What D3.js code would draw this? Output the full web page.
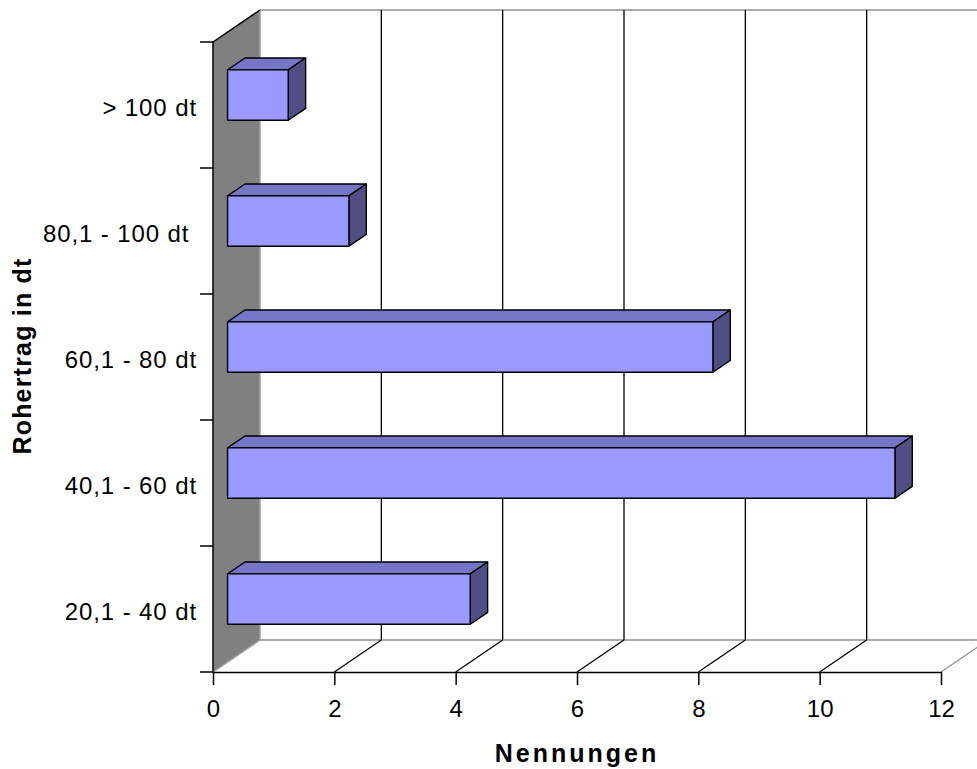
<!DOCTYPE html>
<html>
<head>
<meta charset="utf-8">
<script src="https://cdn.jsdelivr.net/npm/d3@7"></script>
<style>
  html, body { margin: 0; padding: 0; background: #fff; }
  svg { display: block; font-family: "Liberation Sans", Arial, sans-serif; }
</style>
</head>
<body>
<svg id="chart" width="977" height="769"></svg>
<script>
// Rohertrag classes (bottom to top) and number of answers per class
const categories = ["20,1 - 40 dt", "40,1 - 60 dt", "60,1 - 80 dt", "80,1 - 100 dt\u00a0", "> 100 dt"];
const values = [4, 11, 8, 2, 1];
const xTicks = [0, 2, 4, 6, 8, 10, 12];
const xTitle = "Nennungen";
const yTitle = "Rohertrag in dt";

const svg = d3.select("#chart");

// front plane of the 3D box
const x = d3.scaleLinear().domain([0, 12]).range([213, 941]);
const y = d3.scaleBand().domain(categories).range([672, 42])
  .paddingInner(0.6).paddingOuter(0.3);

// depth projection: a point at depth d (0 = front, 1 = back)
const DX = 47, DY = -32;
const P = (px, py, d) => [px + d * DX, py + d * DY];
const pts = arr => arr.map(p => p.join(",")).join(" ");

const yTop = y.range()[1], yBot = y.range()[0];
const x0 = x(0), x1 = x(12);

// left wall
svg.append("polygon")
  .attr("points", pts([P(x0, yTop, 0), P(x0, yTop, 1), P(x0, yBot, 1), P(x0, yBot, 0)]))
  .attr("fill", "#808080");
svg.append("line")
  .attr("x1", P(x0, yTop, 1)[0]).attr("y1", P(x0, yTop, 1)[1])
  .attr("x2", P(x0, yBot, 1)[0]).attr("y2", P(x0, yBot, 1)[1])
  .attr("stroke", "#a0a0a0").attr("stroke-width", 1.5);
svg.append("line")
  .attr("x1", P(x0, yBot, 0)[0]).attr("y1", P(x0, yBot, 0)[1])
  .attr("x2", P(x0, yBot, 1)[0]).attr("y2", P(x0, yBot, 1)[1])
  .attr("stroke", "#a0a0a0").attr("stroke-width", 1.5);
svg.append("line")
  .attr("x1", P(x0, yTop, 0)[0]).attr("y1", P(x0, yTop, 0)[1])
  .attr("x2", P(x0, yTop, 1)[0]).attr("y2", P(x0, yTop, 1)[1])
  .attr("stroke", "#000").attr("stroke-width", 1.5);

// back wall edges
svg.append("line")
  .attr("x1", P(x0, yTop, 1)[0]).attr("y1", P(x0, yTop, 1)[1])
  .attr("x2", P(x1, yTop, 1)[0]).attr("y2", P(x1, yTop, 1)[1])
  .attr("stroke", "#909090").attr("stroke-width", 1.5);
svg.append("line")
  .attr("x1", P(x0, yBot, 1)[0]).attr("y1", P(x0, yBot, 1)[1])
  .attr("x2", P(x1, yBot, 1)[0]).attr("y2", P(x1, yBot, 1)[1])
  .attr("stroke", "#909090").attr("stroke-width", 1.5);

// vertical gridlines on the back wall
svg.append("g").selectAll("line")
  .data(xTicks.filter(v => v > 0))
  .join("line")
  .attr("x1", v => P(x(v), yTop, 1)[0]).attr("y1", v => P(x(v), yTop, 1)[1])
  .attr("x2", v => P(x(v), yBot, 1)[0]).attr("y2", v => P(x(v), yBot, 1)[1])
  .attr("stroke", "#000").attr("stroke-width", 1.3);

// floor lines running from the axis ticks to the back
svg.append("g").selectAll("line")
  .data(xTicks.filter(v => v > 0))
  .join("line")
  .attr("x1", v => x(v)).attr("y1", yBot)
  .attr("x2", v => P(x(v), yBot, 1)[0]).attr("y2", v => P(x(v), yBot, 1)[1])
  .attr("stroke", v => v === 12 ? "#909090" : "#000").attr("stroke-width", 1.3);

// bars
const D1 = 0.31, D2 = 0.68;
const fontSize = 24;
const bars = svg.append("g").selectAll("g")
  .data(categories.map((c, i) => ({ c, v: values[i] })))
  .join("g")
  .attr("stroke", "#000").attr("stroke-width", 1.4).attr("stroke-linejoin", "round");

bars.append("polygon") // top face
  .attr("fill", "#7676C8")
  .attr("points", d => {
    const t = y(d.c);
    return pts([P(x0, t, D1), P(x(d.v), t, D1), P(x(d.v), t, D2), P(x0, t, D2)]);
  });
bars.append("polygon") // side face
  .attr("fill", "#4F4F86")
  .attr("points", d => {
    const t = y(d.c), b = y(d.c) + y.bandwidth();
    return pts([P(x(d.v), t, D1), P(x(d.v), t, D2), P(x(d.v), b, D2), P(x(d.v), b, D1)]);
  });
bars.append("polygon") // front face
  .attr("fill", "#9999FF")
  .attr("points", d => {
    const t = y(d.c), b = y(d.c) + y.bandwidth();
    return pts([P(x0, t, D1), P(x(d.v), t, D1), P(x(d.v), b, D1), P(x0, b, D1)]);
  });

// category axis
const yAxis = svg.append("g");
yAxis.append("line")
  .attr("x1", x0).attr("x2", x0).attr("y1", yTop).attr("y2", yBot)
  .attr("stroke", "#000").attr("stroke-width", 1.5);
const bounds = d3.range(categories.length + 1).map(i => yBot - i * y.step());
yAxis.selectAll("line.tick").data(bounds).join("line")
  .attr("class", "tick")
  .attr("x1", x0 - 13).attr("x2", x0).attr("y1", d => d).attr("y2", d => d)
  .attr("stroke", "#000").attr("stroke-width", 1.5);
yAxis.selectAll("text").data(categories).join("text")
  .attr("x", 197)
  .attr("y", c => y(c) + y.bandwidth() / 2 + 11)
  .attr("text-anchor", "end")
  .attr("font-size", fontSize)
  .attr("letter-spacing", 0.9)
  .style("white-space", "pre")
  .text(c => c);

// value axis
const xAxis = svg.append("g").attr("transform", `translate(0,${yBot})`)
  .call(d3.axisBottom(x).tickValues(xTicks).tickSize(13).tickSizeOuter(0).tickPadding(15).tickFormat(d3.format("d")));
xAxis.select(".domain").attr("stroke", "#000").attr("stroke-width", 1.5);
xAxis.selectAll(".tick line").attr("stroke", "#000").attr("stroke-width", 1.5);
xAxis.selectAll(".tick text").attr("font-size", fontSize).attr("fill", "#000")
  .attr("font-family", "Liberation Sans, Arial, sans-serif");

// axis titles
svg.append("text")
  .attr("x", 577).attr("y", 762)
  .attr("text-anchor", "middle")
  .attr("font-size", 25).attr("font-weight", "bold")
  .attr("letter-spacing", 3)
  .text(xTitle);
svg.append("text")
  .attr("transform", "translate(31,356) rotate(-90)")
  .attr("text-anchor", "middle")
  .attr("font-size", 25).attr("font-weight", "bold")
  .attr("letter-spacing", 1.2)
  .text(yTitle);
</script>
</body>
</html>
